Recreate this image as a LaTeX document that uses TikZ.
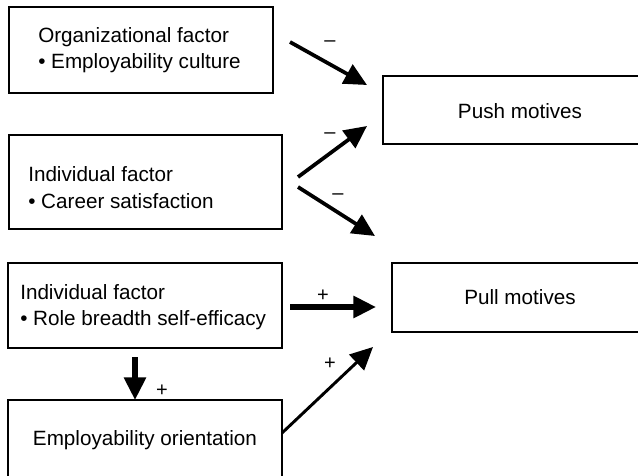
\documentclass[tikz,border=0pt]{standalone}
\usepackage{fontspec}
\setmainfont{Liberation Sans}
\usetikzlibrary{arrows.meta,fit}
\begin{document}
\begin{tikzpicture}[x=0.75pt,y=-0.75pt,
  box/.style={draw=black,line width=1.3pt,inner sep=0pt},
  txt/.style={font=\fontsize{15.5}{20}\selectfont,align=left,inner sep=0pt},
  ctxt/.style={font=\fontsize{15.5}{20}\selectfont,align=center,inner sep=0pt},
  sgn/.style={font=\fontsize{15}{16}\selectfont,inner sep=0pt},
  arr/.style={-{Triangle[length=17pt,width=16pt]},line width=2.8pt},
  arrthin/.style={-{Triangle[length=17pt,width=16pt]},line width=2.2pt},
  arrbold/.style={-{Triangle[length=17pt,width=16pt]},line width=3.8pt}]
\useasboundingbox (0,0) rectangle (638,475);
\clip (0,0) rectangle (638,475);
% boxes
\node[box,fit={(9,7) (273,93)}] (org) {};
\node[box,fit={(9,135) (282,229)}] (car) {};
\node[box,fit={(8,263) (282,348)}] (rbs) {};
\node[box,fit={(8,400) (282,480)}] (emp) {};
\node[box,fit={(383,76) (660,144)}] (push) {};
\node[box,fit={(392,263) (660,332)}] (pull) {};
% texts
\node[txt,anchor=west] (orgt) at (38,50) {Organizational factor\\• Employability culture};
\node[txt,anchor=west] (cart) at (28,187.5) {Individual factor\\• Career satisfaction};
\node[txt,anchor=west] (rbst) at (20,307) {Individual factor\\• Role breadth self-efficacy};
\node[ctxt] (empt) at (145,440) {Employability orientation};
\node[ctxt] (pusht) at (520,111) {Push motives};
\node[ctxt] (pullt) at (520,297) {Pull motives};
% arrow end points
\coordinate (a1s) at (290,42);  \coordinate (a1e) at (367,85);
\coordinate (a2s) at (298,177); \coordinate (a2e) at (367,126);
\coordinate (a3s) at (298,187); \coordinate (a3e) at (375,236);
\coordinate (a4s) at (290,307); \coordinate (a4e) at (376,307);
\coordinate (a5s) at (282,433); \coordinate (a5e) at (373,347);
\coordinate (a6s) at (135,357); \coordinate (a6e) at (135,400);
\draw[arr] (a1s) -- (a1e);
\draw[arr] (a2s) -- (a2e);
\draw[arr] (a3s) -- (a3e);
\draw[arrbold] (a4s) -- (a4e);
\draw[arrthin] (a5s) -- (a5e);
\draw[arrbold] (a6s) -- (a6e);
% signs
\node[sgn] (s1) at (330,44) {–};
\node[sgn] (s2) at (330,136) {–};
\node[sgn] (s3) at (338,197) {–};
\node[sgn] (s4) at (323,296) {+};
\node[sgn] (s5) at (330,364) {+};
\node[sgn] (s6) at (162,391) {+};
\end{tikzpicture}
\end{document}
